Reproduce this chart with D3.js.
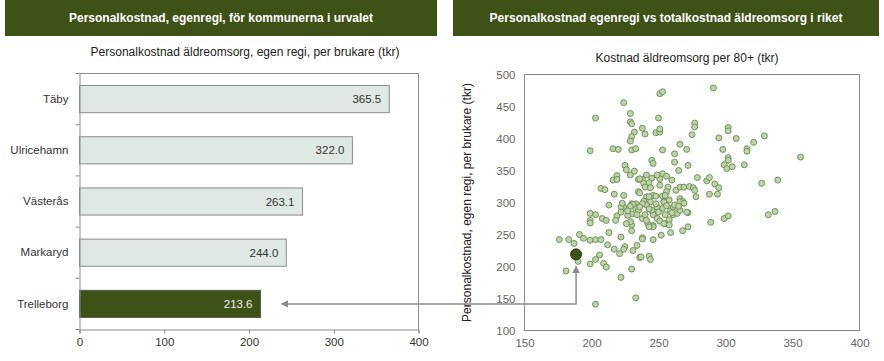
<!DOCTYPE html>
<html>
<head>
<meta charset="utf-8">
<script src="https://cdn.jsdelivr.net/npm/d3@7"></script>
<style>
  body { margin: 0; background: #fff; }
  text { font-family: "Liberation Sans", Arial, sans-serif; }
</style>
</head>
<body>
<div id="chart"></div>
<script>
// bar chart data
let kommuner = ["Täby", "Ulricehamn", "Västerås", "Markaryd", "Trelleborg"];
let personalkostnad = [365.5, 322.0, 263.1, 244.0, 213.6];
let barTicks = [0, 100, 200, 300, 400];
let highlight = "Trelleborg";

// scatter data: kostnad per 80+ (x), personalkostnad per brukare (y)
let kostnad80 = [
  199,203,224,216,220,225,226,229,232,219,216,219,235,207,210,217,224,213,229,229,
  230,232,230,229,230,233,238,240,248,251,251,250,251,253,253,262,262,266,271,265,
  272,277,277,275,291,295,302,302,308,298,302,302,299,301,305,314,316,316,321,329,
  356,327,339,245,246,279,286,288,292,295,288,294,
  253,256,251,251,249,245,241,238,236,239,240,243,244,235,236,241,246,243,248,253,
  257,256,255,260,263,266,269,273,276,277,278,266,268,254,258,244,239,233,230,224,222,
  199,203,208,211,199,199,213,176,183,187,191,194,199,203,207,212,217,222,225,224,
  221,206,203,209,211,199,190,181,222,230,233,203,231,234,236,243,244,237,238,238,
  246,252,259,268,272,289,299,302,332,337,272,246,242,255,230,230,229,226,219,218,
  222,223,233,235,238,240,241,246,246,243,249,251,255,258,254,258,261,264,266,259,
  261,253,241,238,231,229,249,254,266,269,271,230,234,227,262,265,245,250,227,236,
  243,248,256,260
];
let personal80 = [
  381,432,456,384,383,358,351,343,349,342,335,336,336,322,320,313,311,296,439,426,
  423,410,403,396,382,384,416,407,409,410,415,432,470,473,382,376,363,391,383,350,
  358,424,418,406,479,401,417,412,400,383,370,366,359,353,356,359,384,380,394,404,
  371,330,335,366,361,339,334,339,329,323,313,313,
  345,341,337,327,343,338,343,336,337,330,324,331,323,317,315,309,311,309,310,310,
  324,317,311,335,319,324,324,325,323,319,309,306,302,302,304,301,302,298,298,293,293,
  283,281,275,272,272,268,253,242,242,236,250,244,241,242,242,234,227,246,231,227,
  220,218,211,205,199,204,208,193,183,196,151,141,225,233,214,216,211,215,245,243,
  242,249,253,256,262,269,275,279,281,286,284,264,267,267,256,265,270,267,279,272,
  285,299,291,288,275,281,272,281,262,262,275,271,281,273,267,265,281,283,288,287,
  293,291,296,298,297,294,293,301,301,299,285,282,281,280,296,294,288,285,287,293,
  290,298,295,284
];
let trelleborgPunkt = [188.5, 219];
let xTicks = [150, 200, 250, 300, 350, 400];
let yTicks = [100, 150, 200, 250, 300, 350, 400, 450, 500];

let width = 884, height = 361;
let dark = "#3e5117";
let axisGrey = "#8c8c8c";

let svg = d3.select("#chart").append("svg")
    .attr("width", width)
    .attr("height", height);

// headers
let headers = [
    {x0: 5, x1: 437, text: "Personalkostnad, egenregi, för kommunerna i urvalet"},
    {x0: 453, x1: 879, text: "Personalkostnad egenregi vs totalkostnad äldreomsorg i riket"}
];
headers.forEach(h => {
    svg.append("rect")
        .attr("x", h.x0).attr("y", 0)
        .attr("width", h.x1 - h.x0).attr("height", 36)
        .attr("fill", dark);
    svg.append("text")
        .attr("x", (h.x0 + h.x1) / 2).attr("y", 22)
        .attr("text-anchor", "middle")
        .attr("fill", "#fff")
        .attr("font-size", 12)
        .attr("font-weight", "bold")
        .text(h.text);
});

// ---------- bar chart ----------
let bx = d3.scaleLinear().domain([0, 400]).range([79.5, 418.5]);
let by = d3.scaleBand().domain(kommuner).range([73.5, 329.5])
    .paddingInner(0.47).paddingOuter(0.235);

svg.append("text")
    .attr("x", 245).attr("y", 56)
    .attr("text-anchor", "middle")
    .attr("font-size", 12).attr("fill", "#222")
    .text("Personalkostnad äldreomsorg, egen regi, per brukare (tkr)");

let gb = svg.append("g");
// frame top + right
gb.append("path")
    .attr("d", `M${bx(0)},${by.range()[0]}H${bx(400)}V${by.range()[1]}`)
    .attr("fill", "none").attr("stroke", axisGrey);

gb.selectAll("rect.bar")
    .data(kommuner)
    .join("rect")
    .attr("class", "bar")
    .attr("x", bx(0))
    .attr("y", d => by(d))
    .attr("width", (d, i) => bx(personalkostnad[i]) - bx(0))
    .attr("height", by.bandwidth())
    .attr("fill", d => d == highlight ? dark : "#dfe8e3")
    .attr("stroke", d => d == highlight ? "#5a5a5a" : "#8a8a8a");

gb.selectAll("text.val")
    .data(kommuner)
    .join("text")
    .attr("class", "val")
    .attr("x", (d, i) => bx(personalkostnad[i]) - 8)
    .attr("y", d => by(d) + by.bandwidth() / 2 + 4)
    .attr("text-anchor", "end")
    .attr("font-size", 11.5)
    .attr("fill", d => d == highlight ? "#f2f2f2" : "#333")
    .text((d, i) => personalkostnad[i].toFixed(1));

// x axis
let xAxisB = gb.append("g")
    .attr("transform", `translate(0,${by.range()[1]})`)
    .call(d3.axisBottom(bx).tickValues(barTicks).tickSize(4).tickPadding(4));
// y axis
let yAxisB = gb.append("g")
    .attr("transform", `translate(${bx(0)},0)`)
    .call(d3.axisLeft(by).tickSize(0).tickPadding(11));
// ticks at band boundaries
gb.selectAll("line.bt")
    .data(d3.range(kommuner.length + 1))
    .join("line")
    .attr("class", "bt")
    .attr("x1", bx(0) - 4).attr("x2", bx(0))
    .attr("y1", i => by.range()[0] + i * by.step())
    .attr("y2", i => by.range()[0] + i * by.step())
    .attr("stroke", axisGrey);
[xAxisB, yAxisB].forEach(a => {
    a.selectAll("path, line").attr("stroke", axisGrey);
    a.selectAll("text").attr("font-size", 11.5).attr("fill", "#333")
        .style("font-family", '"Liberation Sans", Arial, sans-serif');
});

// ---------- scatter ----------
let sx = d3.scaleLinear().domain([150, 400]).range([524.5, 859.5]);
let sy = d3.scaleLinear().domain([100, 500]).range([330.5, 74.5]);

svg.append("text")
    .attr("x", 687).attr("y", 62)
    .attr("text-anchor", "middle")
    .attr("font-size", 12).attr("fill", "#222")
    .text("Kostnad äldreomsorg per 80+ (tkr)");

svg.append("text")
    .attr("transform", `translate(471,${(sy(100) + sy(500)) / 2}) rotate(-90)`)
    .attr("text-anchor", "middle")
    .attr("font-size", 12).attr("fill", "#222")
    .text("Personalkostnad, egen regi, per brukare (tkr)");

let gs = svg.append("g");
gs.append("rect")
    .attr("x", sx(150)).attr("y", sy(500))
    .attr("width", sx(400) - sx(150)).attr("height", sy(100) - sy(500))
    .attr("fill", "none").attr("stroke", axisGrey);

let xAxisS = gs.append("g")
    .attr("transform", `translate(0,${sy(100)})`)
    .call(d3.axisBottom(sx).tickValues(xTicks).tickSize(0).tickPadding(8));
let yAxisS = gs.append("g")
    .attr("transform", `translate(${sx(150)},0)`)
    .call(d3.axisLeft(sy).tickValues(yTicks).tickSize(0).tickPadding(9));
[xAxisS, yAxisS].forEach(a => {
    a.select(".domain").remove();
    a.selectAll("text").attr("font-size", 11.5).attr("fill", "#666")
        .style("font-family", '"Liberation Sans", Arial, sans-serif');
});

gs.selectAll("circle.pt")
    .data(kostnad80)
    .join("circle")
    .attr("class", "pt")
    .attr("cx", d => sx(d))
    .attr("cy", (d, i) => sy(personal80[i]))
    .attr("r", 3)
    .attr("fill", "#bcd3ac")
    .attr("stroke", "#6a8a4c")
    .attr("stroke-width", 0.9);

gs.append("circle")
    .attr("cx", sx(trelleborgPunkt[0]))
    .attr("cy", sy(trelleborgPunkt[1]))
    .attr("r", 5.5)
    .attr("fill", dark)
    .attr("stroke", "#2c3a10");

// ---------- connector arrow ----------
svg.append("defs").append("marker")
    .attr("id", "arr")
    .attr("viewBox", "0 0 10 10")
    .attr("refX", 9).attr("refY", 5)
    .attr("markerWidth", 5).attr("markerHeight", 5)
    .attr("orient", "auto-start-reverse")
    .append("path")
    .attr("d", "M0,0L10,5L0,10z")
    .attr("fill", "#8c8c8c");

let ax = sx(trelleborgPunkt[0]);
let ay = by(highlight) + by.bandwidth() / 2;
svg.append("path")
    .attr("d", `M${bx(213.6) + 21},${ay}H${ax}V${sy(trelleborgPunkt[1]) + 12}`)
    .attr("fill", "none")
    .attr("stroke", "#8c8c8c")
    .attr("stroke-width", 1.5)
    .attr("marker-start", "url(#arr)")
    .attr("marker-end", "url(#arr)");
</script>
</body>
</html>
